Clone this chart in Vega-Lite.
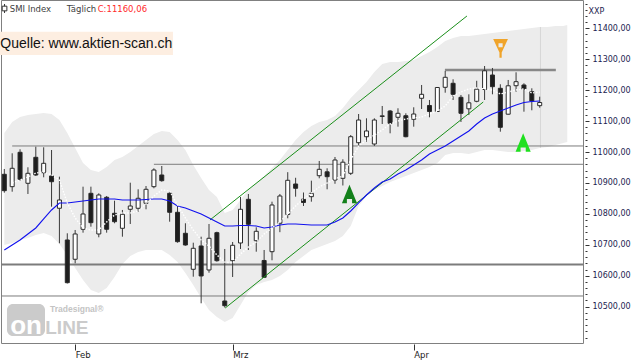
{
"$schema": "https://vega.github.io/schema/vega-lite/v6.json",
"width": 582, "height": 343,
"autosize": {"type": "none"},
"padding": {"left": 1, "top": 0, "right": 57, "bottom": 17},
"background": "white",
"config": {
  "view": {"stroke": "#808080", "strokeWidth": 1},
  "font": "DejaVu Sans",
  "scale": {"continuousPadding": 0},
  "axis": {"domain": false, "grid": false, "tickColor": "#333333", "labelFont": "DejaVu Sans", "labelFontSize": 8, "title": null, "labelOverlap": false, "labelFlush": false, "labelBound": false},
  "axisX": {"offset": 1, "tickSize": 6, "labelAlign": "left", "labelDx": 2, "labelBaseline": "alphabetic", "labelPadding": 7, "labelColor": "#222222", "labelFontSize": 8.5}
},
"datasets": {
  "candles": [
    {"i":0,"o":10928.0,"h":10945.1,"l":10868.5,"c":10875.0},
    {"i":1,"o":10887.9,"h":10995.9,"l":10871.7,"c":10947.4},
    {"i":2,"o":10999.1,"h":11008.8,"l":10907.3,"c":10911.8},
    {"i":3,"o":10898.9,"h":10950.6,"l":10864.3,"c":10931.2},
    {"i":4,"o":10982.9,"h":11017.2,"l":10922.5,"c":10925.7},
    {"i":5,"o":10933.1,"h":11015.3,"l":10918.3,"c":10963.5},
    {"i":6,"o":10922.5,"h":11006.5,"l":10823.2,"c":10904.0},
    {"i":7,"o":10818.1,"h":10920.2,"l":10704.9,"c":10844.9},
    {"i":8,"o":10715.6,"h":10737.2,"l":10574.9,"c":10577.5},
    {"i":9,"o":10653.2,"h":10747.9,"l":10640.2,"c":10735.0},
    {"i":10,"o":10750.2,"h":10887.9,"l":10739.2,"c":10799.6},
    {"i":11,"o":10866.5,"h":10887.9,"l":10758.6,"c":10771.5},
    {"i":12,"o":10735.0,"h":10866.5,"l":10724.3,"c":10861.1},
    {"i":13,"o":10853.6,"h":10857.8,"l":10739.2,"c":10750.2},
    {"i":14,"o":10801.9,"h":10842.6,"l":10769.6,"c":10774.7},
    {"i":15,"o":10753.4,"h":10812.6,"l":10726.2,"c":10798.7},
    {"i":16,"o":10814.8,"h":10900.8,"l":10767.3,"c":10825.5},
    {"i":17,"o":10818.1,"h":10879.5,"l":10807.0,"c":10850.4},
    {"i":18,"o":10834.2,"h":10890.1,"l":10814.8,"c":10879.5},
    {"i":19,"o":10887.9,"h":10947.4,"l":10882.7,"c":10941.9},
    {"i":20,"o":10925.7,"h":10954.8,"l":10904.0,"c":10907.3},
    {"i":21,"o":10866.5,"h":10871.7,"l":10774.7,"c":10805.1},
    {"i":22,"o":10805.1,"h":10828.7,"l":10706.8,"c":10710.1},
    {"i":23,"o":10737.2,"h":10769.6,"l":10697.1,"c":10699.4},
    {"i":24,"o":10620.8,"h":10706.8,"l":10596.9,"c":10688.7},
    {"i":25,"o":10696.2,"h":10726.2,"l":10510.9,"c":10599.2},
    {"i":26,"o":10618.6,"h":10767.3,"l":10609.8,"c":10721.1},
    {"i":27,"o":10739.2,"h":10742.4,"l":10645.4,"c":10648.6},
    {"i":28,"o":10518.3,"h":10686.5,"l":10497.3,"c":10503.1},
    {"i":29,"o":10648.6,"h":10709.1,"l":10595.9,"c":10698.4},
    {"i":30,"o":10705.9,"h":10854.6,"l":10686.5,"c":10814.8},
    {"i":31,"o":10847.1,"h":10864.3,"l":10683.2,"c":10766.3},
    {"i":32,"o":10713.3,"h":10756.6,"l":10677.7,"c":10743.7},
    {"i":33,"o":10649.3,"h":10683.2,"l":10595.0,"c":10595.0},
    {"i":34,"o":10677.7,"h":10839.4,"l":10649.9,"c":10828.7},
    {"i":35,"o":10769.6,"h":10864.3,"l":10740.8,"c":10857.8},
    {"i":36,"o":10798.0,"h":10934.8,"l":10785.7,"c":10908.6},
    {"i":37,"o":10896.6,"h":10916.7,"l":10855.6,"c":10882.7},
    {"i":38,"o":10847.5,"h":10869.1,"l":10825.5,"c":10836.8},
    {"i":39,"o":10855.6,"h":10907.3,"l":10839.4,"c":10866.5},
    {"i":40,"o":10923.4,"h":10971.0,"l":10915.0,"c":10944.1},
    {"i":41,"o":10936.0,"h":10947.4,"l":10879.5,"c":10920.2},
    {"i":42,"o":10909.5,"h":10983.9,"l":10897.3,"c":10974.2},
    {"i":43,"o":10915.0,"h":10976.5,"l":10891.8,"c":10967.1},
    {"i":44,"o":10931.2,"h":11055.0,"l":10925.7,"c":11049.5},
    {"i":45,"o":11030.1,"h":11122.9,"l":11019.5,"c":11103.5},
    {"i":46,"o":11049.5,"h":11109.0,"l":11033.4,"c":11068.0},
    {"i":47,"o":11025.9,"h":11109.0,"l":11019.5,"c":11103.5},
    {"i":48,"o":11114.8,"h":11148.8,"l":11090.6,"c":11117.1},
    {"i":49,"o":11132.6,"h":11135.9,"l":11060.5,"c":11092.9},
    {"i":50,"o":11112.3,"h":11141.4,"l":11081.9,"c":11125.2},
    {"i":51,"o":11117.4,"h":11125.2,"l":11047.6,"c":11049.5},
    {"i":52,"o":11105.8,"h":11144.6,"l":11081.9,"c":11122.9},
    {"i":53,"o":11173.7,"h":11216.7,"l":11139.1,"c":11186.6},
    {"i":54,"o":11150.4,"h":11168.2,"l":11112.3,"c":11131.0},
    {"i":55,"o":11131.0,"h":11210.2,"l":11130.4,"c":11208.6},
    {"i":56,"o":11209.2,"h":11262.0,"l":11191.8,"c":11241.6},
    {"i":57,"o":11222.2,"h":11235.1,"l":11168.2,"c":11186.6},
    {"i":58,"o":11176.9,"h":11184.4,"l":11097.1,"c":11125.2},
    {"i":59,"o":11139.7,"h":11186.6,"l":11119.7,"c":11159.1},
    {"i":60,"o":11164.0,"h":11230.3,"l":11160.8,"c":11203.1},
    {"i":61,"o":11202.1,"h":11278.1,"l":11168.2,"c":11262.6},
    {"i":62,"o":11249.0,"h":11271.7,"l":11186.6,"c":11211.2},
    {"i":63,"o":11206.0,"h":11219.0,"l":11065.7,"c":11079.9},
    {"i":64,"o":11122.3,"h":11232.9,"l":11121.3,"c":11214.1},
    {"i":65,"o":11214.4,"h":11257.7,"l":11195.0,"c":11227.4},
    {"i":66,"o":11216.7,"h":11222.2,"l":11130.4,"c":11203.1},
    {"i":67,"o":11195.0,"h":11206.0,"l":11134.9,"c":11165.0},
    {"i":68,"o":11149.8,"h":11178.9,"l":11143.3,"c":11160.06}
  ],
  "ma": [
    {"i":0,"m20":10683.2,"m5":null},{"i":1,"m20":10699.4,"m5":10899.8},{"i":2,"m20":10715.6,"m5":10909.5},
    {"i":3,"m20":10735.0,"m5":10919.2},{"i":4,"m20":10754.4,"m5":10932.2},{"i":5,"m20":10783.5,"m5":10935.4},
    {"i":6,"m20":10812.6,"m5":10925.7},{"i":7,"m20":10835.2,"m5":10909.5},{"i":8,"m20":10835.2,"m5":10835.2},
    {"i":9,"m20":10838.4,"m5":10786.7},{"i":10,"m20":10841.6,"m5":10754.4},{"i":11,"m20":10844.9,"m5":10747.9},
    {"i":12,"m20":10848.1,"m5":10747.9},{"i":13,"m20":10848.1,"m5":10773.8},{"i":14,"m20":10848.1,"m5":10796.4},
    {"i":15,"m20":10844.9,"m5":10802.9},{"i":16,"m20":10844.9,"m5":10802.9},{"i":17,"m20":10844.9,"m5":10809.3},
    {"i":18,"m20":10846.5,"m5":10832.0},{"i":19,"m20":10848.1,"m5":10857.8},{"i":20,"m20":10848.1,"m5":10877.2},
    {"i":21,"m20":10841.6,"m5":10874.0},{"i":22,"m20":10825.5,"m5":10828.7},{"i":23,"m20":10819.0,"m5":10786.7},
    {"i":24,"m20":10809.3,"m5":10747.9},{"i":25,"m20":10799.6,"m5":10715.6},{"i":26,"m20":10786.7,"m5":10696.2},
    {"i":27,"m20":10773.8,"m5":10667.1},{"i":28,"m20":10760.8,"m5":10644.5},{"i":29,"m20":10760.8,"m5":10641.2},
    {"i":30,"m20":10762.4,"m5":10670.3},{"i":31,"m20":10762.4,"m5":10692.9},{"i":32,"m20":10760.8,"m5":10709.1},
    {"i":33,"m20":10754.4,"m5":10735.0},{"i":34,"m20":10757.6,"m5":10754.4},{"i":35,"m20":10764.1,"m5":10773.8},
    {"i":36,"m20":10767.3,"m5":10799.6},{"i":37,"m20":10767.3,"m5":10825.5},{"i":38,"m20":10765.7,"m5":10848.1},
    {"i":39,"m20":10764.1,"m5":10867.5},{"i":40,"m20":10764.1,"m5":10886.9},{"i":41,"m20":10764.1,"m5":10899.8},
    {"i":42,"m20":10773.8,"m5":10912.8},{"i":43,"m20":10786.7,"m5":10922.5},{"i":44,"m20":10809.3,"m5":10974.2},
    {"i":45,"m20":10835.2,"m5":11019.5},{"i":46,"m20":10861.0,"m5":11038.9},{"i":47,"m20":10883.7,"m5":11055.0},
    {"i":48,"m20":10903.1,"m5":11071.2},{"i":49,"m20":10912.8,"m5":11090.6},{"i":50,"m20":10928.9,"m5":11100.3},
    {"i":51,"m20":10941.9,"m5":11106.8},{"i":52,"m20":10958.0,"m5":11110.0},{"i":53,"m20":10974.2,"m5":11113.2},
    {"i":54,"m20":10993.6,"m5":11122.9},{"i":55,"m20":11006.5,"m5":11132.6},{"i":56,"m20":11019.5,"m5":11148.8},
    {"i":57,"m20":11035.6,"m5":11181.1},{"i":58,"m20":11051.8,"m5":11194.1},{"i":59,"m20":11068.0,"m5":11203.8},
    {"i":60,"m20":11090.6,"m5":11207.0},{"i":61,"m20":11110.0,"m5":11203.8},{"i":62,"m20":11122.9,"m5":11200.5},
    {"i":63,"m20":11132.6,"m5":11187.6},{"i":64,"m20":11142.3,"m5":11194.1},{"i":65,"m20":11152.0,"m5":11200.5},
    {"i":66,"m20":11160.1,"m5":11203.8},{"i":67,"m20":11163.3,"m5":11190.8},{"i":68,"m20":11165.0,"m5":11194.1}
  ],
  "band": [
    {"i":0,"hi":11061.5,"lo":10699.4},{"i":1,"hi":11097.1,"lo":10705.9},{"i":2,"hi":11113.2,"lo":10715.6},
    {"i":3,"hi":11119.7,"lo":10722.0},{"i":4,"hi":11122.9,"lo":10731.7},{"i":5,"hi":11126.2,"lo":10738.2},
    {"i":6,"hi":11122.9,"lo":10728.5},{"i":7,"hi":11103.5,"lo":10702.6},{"i":8,"hi":11061.5,"lo":10667.1},
    {"i":9,"hi":11013.0,"lo":10625.1},{"i":10,"hi":10964.5,"lo":10586.2},{"i":11,"hi":10941.9,"lo":10553.9},
    {"i":12,"hi":10935.4,"lo":10544.2},{"i":13,"hi":10951.6,"lo":10560.4},{"i":14,"hi":10974.2,"lo":10596.0},
    {"i":15,"hi":10983.9,"lo":10638.0},{"i":16,"hi":11000.1,"lo":10663.8},{"i":17,"hi":11019.5,"lo":10676.8},
    {"i":18,"hi":11038.9,"lo":10683.2},{"i":19,"hi":11058.3,"lo":10683.2},{"i":20,"hi":11068.0,"lo":10683.2},
    {"i":21,"hi":11064.7,"lo":10667.1},{"i":22,"hi":11038.9,"lo":10644.5},{"i":23,"hi":11006.5,"lo":10608.9},
    {"i":24,"hi":10958.0,"lo":10570.1},{"i":25,"hi":10916.0,"lo":10528.0},{"i":26,"hi":10877.2,"lo":10489.2},
    {"i":27,"hi":10854.6,"lo":10466.6},{"i":28,"hi":10802.8,"lo":10450.5},{"i":29,"hi":10812.6,"lo":10463.4},
    {"i":30,"hi":10844.9,"lo":10505.4},{"i":31,"hi":10877.2,"lo":10547.4},{"i":32,"hi":10899.8,"lo":10570.1},
    {"i":33,"hi":10922.5,"lo":10579.8},{"i":34,"hi":10948.3,"lo":10586.2},{"i":35,"hi":10974.2,"lo":10599.2},
    {"i":36,"hi":11006.5,"lo":10618.6},{"i":37,"hi":11038.9,"lo":10644.5},{"i":38,"hi":11064.7,"lo":10663.8},
    {"i":39,"hi":11084.1,"lo":10683.2},{"i":40,"hi":11097.1,"lo":10692.9},{"i":41,"hi":11103.5,"lo":10702.6},
    {"i":42,"hi":11116.5,"lo":10712.4},{"i":43,"hi":11142.3,"lo":10728.5},{"i":44,"hi":11174.7,"lo":10760.8},
    {"i":45,"hi":11200.5,"lo":10825.5},{"i":46,"hi":11226.4,"lo":10857.8},{"i":47,"hi":11258.7,"lo":10877.2},
    {"i":48,"hi":11284.6,"lo":10890.1},{"i":49,"hi":11291.1,"lo":10903.1},{"i":50,"hi":11291.1,"lo":10912.8},
    {"i":51,"hi":11294.3,"lo":10922.5},{"i":52,"hi":11297.5,"lo":10932.2},{"i":53,"hi":11310.4,"lo":10941.9},
    {"i":54,"hi":11323.4,"lo":10951.6},{"i":55,"hi":11339.5,"lo":10964.5},{"i":56,"hi":11358.9,"lo":10990.4},
    {"i":57,"hi":11368.6,"lo":10996.8},{"i":58,"hi":11375.1,"lo":10996.8},{"i":59,"hi":11375.1,"lo":10993.6},
    {"i":60,"hi":11378.3,"lo":11000.1},{"i":61,"hi":11381.6,"lo":11006.5},{"i":62,"hi":11384.8,"lo":11006.5},
    {"i":63,"hi":11388.0,"lo":11003.3},{"i":64,"hi":11391.3,"lo":11000.1},{"i":65,"hi":11394.5,"lo":11000.1},
    {"i":66,"hi":11397.7,"lo":11003.3},{"i":67,"hi":11401.0,"lo":11006.5},{"i":68,"hi":11404.2,"lo":11013.0},
    {"i":69,"hi":11404.2,"lo":11016.2},{"i":70,"hi":11407.4,"lo":11022.7},{"i":71,"hi":11407.4,"lo":11029.2},
    {"i":71.5,"hi":11410.7,"lo":11032.4}
  ]
},
"layer": [
  {
    "layer": [
      {
        "data": {"name": "band"},
        "mark": {"type": "area", "color": "#ececec", "opacity": 1},
        "encoding": {
          "x": {"field": "i", "type": "quantitative", "scale": {"domain": [-0.42, 73.5], "nice": false, "zero": false, "padding": 0},
                "axis": {"values": [9, 29, 52], "labelExpr": "datum.value == 9 ? 'Feb' : datum.value == 29 ? 'Mrz' : 'Apr'", "title": null}},
          "y": {"field": "lo", "type": "quantitative", "scale": {"domain": [10382.5, 11491.5], "nice": false, "zero": false, "padding": 0}, "axis": null},
          "y2": {"field": "hi"}
        }
      },
      {
        "data": {"values": [{"i": 68.1, "a": 11404.2, "b": 11013.0}]},
        "mark": {"type": "rule", "color": "#d6d6d6", "strokeWidth": 1},
        "encoding": {
          "x": {"field": "i", "type": "quantitative", "scale": {"domain": [-0.42, 73.5], "nice": false, "zero": false, "padding": 0}},
          "y": {"field": "a", "type": "quantitative", "scale": {"domain": [10382.5, 11491.5], "nice": false, "zero": false, "padding": 0}, "axis": null},
          "y2": {"field": "b"}
        }
      },
      {
        "data": {"values": [{"a": 0.34, "b": 5.17, "v1": 10508.6, "v2": 10405.2}]},
        "mark": {"type": "rect", "color": "#cbcbcb", "cornerRadius": 6},
        "encoding": {
          "x": {"field": "a", "type": "quantitative", "scale": {"domain": [-0.42, 73.5], "nice": false, "zero": false, "padding": 0}},
          "x2": {"field": "b"},
          "y": {"field": "v1", "type": "quantitative", "scale": {"domain": [10382.5, 11491.5], "nice": false, "zero": false, "padding": 0}, "axis": null},
          "y2": {"field": "v2"}
        }
      },
      {
        "data": {"values": [{"i": 2.76, "v": 10411.6, "t": "on"}]},
        "mark": {"type": "text", "align": "center", "baseline": "alphabetic", "font": "Liberation Sans", "fontSize": 26, "fontWeight": "bold", "color": "#ffffff"},
        "encoding": {
          "x": {"field": "i", "type": "quantitative", "scale": {"domain": [-0.42, 73.5], "nice": false, "zero": false, "padding": 0}},
          "y": {"field": "v", "type": "quantitative", "scale": {"domain": [10382.5, 11491.5], "nice": false, "zero": false, "padding": 0}, "axis": null},
          "text": {"field": "t"}
        }
      },
      {
        "data": {"values": [{"i": 5.2, "v": 10411.6, "t": "LINE"}]},
        "mark": {"type": "text", "align": "left", "baseline": "alphabetic", "font": "Liberation Sans", "fontSize": 19, "fontWeight": "bold", "color": "#cbcbcb"},
        "encoding": {
          "x": {"field": "i", "type": "quantitative", "scale": {"domain": [-0.42, 73.5], "nice": false, "zero": false, "padding": 0}},
          "y": {"field": "v", "type": "quantitative", "scale": {"domain": [10382.5, 11491.5], "nice": false, "zero": false, "padding": 0}, "axis": null},
          "text": {"field": "t"}
        }
      },
      {
        "data": {"values": [{"i": 5.8, "v": 10482.0, "t": "Tradesignal®"}]},
        "mark": {"type": "text", "align": "left", "baseline": "alphabetic", "font": "Liberation Sans", "fontSize": 8.5, "fontWeight": "bold", "color": "#c4c4c4"},
        "encoding": {
          "x": {"field": "i", "type": "quantitative", "scale": {"domain": [-0.42, 73.5], "nice": false, "zero": false, "padding": 0}},
          "y": {"field": "v", "type": "quantitative", "scale": {"domain": [10382.5, 11491.5], "nice": false, "zero": false, "padding": 0}, "axis": null},
          "text": {"field": "t"}
        }
      },
      {
        "data": {"values": [{"a": -0.55, "b": 21.42, "v1": 11389.0, "v2": 11313.7}]},
        "mark": {"type": "rect", "color": "#fdeee1"},
        "encoding": {
          "x": {"field": "a", "type": "quantitative", "scale": {"domain": [-0.42, 73.5], "nice": false, "zero": false, "padding": 0}},
          "x2": {"field": "b"},
          "y": {"field": "v1", "type": "quantitative", "scale": {"domain": [10382.5, 11491.5], "nice": false, "zero": false, "padding": 0}, "axis": null},
          "y2": {"field": "v2"}
        }
      },
      {
        "data": {"values": [{"i": -0.5, "v": 11336.3, "t": "Quelle: www.aktien-scan.ch"}]},
        "mark": {"type": "text", "align": "left", "baseline": "alphabetic", "font": "Liberation Sans", "fontSize": 14, "color": "#111111"},
        "encoding": {
          "x": {"field": "i", "type": "quantitative", "scale": {"domain": [-0.42, 73.5], "nice": false, "zero": false, "padding": 0}},
          "y": {"field": "v", "type": "quantitative", "scale": {"domain": [10382.5, 11491.5], "nice": false, "zero": false, "padding": 0}, "axis": null},
          "text": {"field": "t"}
        }
      },
      {
        "data": {"values": [{"a": 1, "b": 73.5, "v": 11019.5}, {"a": 19, "b": 73.5, "v": 10960.3}, {"a": -0.42, "b": 73.5, "v": 10534.5}]},
        "mark": {"type": "rule", "color": "#7c7c7c", "strokeWidth": 1},
        "encoding": {
          "x": {"field": "a", "type": "quantitative", "scale": {"domain": [-0.42, 73.5], "nice": false, "zero": false, "padding": 0}},
          "x2": {"field": "b"},
          "y": {"field": "v", "type": "quantitative", "scale": {"domain": [10382.5, 11491.5], "nice": false, "zero": false, "padding": 0}, "axis": null}
        }
      },
      {
        "data": {"values": [{"a": -0.42, "b": 73.5, "v": 10636.3}]},
        "mark": {"type": "rule", "color": "#7c7c7c", "strokeWidth": 2.2},
        "encoding": {
          "x": {"field": "a", "type": "quantitative", "scale": {"domain": [-0.42, 73.5], "nice": false, "zero": false, "padding": 0}},
          "x2": {"field": "b"},
          "y": {"field": "v", "type": "quantitative", "scale": {"domain": [10382.5, 11491.5], "nice": false, "zero": false, "padding": 0}, "axis": null}
        }
      },
      {
        "data": {"values": [{"a": 55.96, "b": 70.05, "v": 11265.2}]},
        "mark": {"type": "rule", "color": "#888888", "strokeWidth": 2.5},
        "encoding": {
          "x": {"field": "a", "type": "quantitative", "scale": {"domain": [-0.42, 73.5], "nice": false, "zero": false, "padding": 0}},
          "x2": {"field": "b"},
          "y": {"field": "v", "type": "quantitative", "scale": {"domain": [10382.5, 11491.5], "nice": false, "zero": false, "padding": 0}, "axis": null}
        }
      },
      {
        "data": {"name": "candles"},
        "mark": {"type": "rule", "color": "#3a3a3a", "strokeWidth": 1},
        "encoding": {
          "x": {"field": "i", "type": "quantitative", "scale": {"domain": [-0.42, 73.5], "nice": false, "zero": false, "padding": 0}},
          "y": {"field": "l", "type": "quantitative", "scale": {"domain": [10382.5, 11491.5], "nice": false, "zero": false, "padding": 0}, "axis": null},
          "y2": {"field": "h"}
        }
      },
      {
        "data": {"name": "candles"},
        "mark": {"type": "bar", "size": 4, "stroke": "#2a2a2a", "strokeWidth": 1},
        "encoding": {
          "x": {"field": "i", "type": "quantitative", "scale": {"domain": [-0.42, 73.5], "nice": false, "zero": false, "padding": 0}},
          "y": {"field": "o", "type": "quantitative", "scale": {"domain": [10382.5, 11491.5], "nice": false, "zero": false, "padding": 0}, "axis": null},
          "y2": {"field": "c"},
          "fill": {"condition": {"test": "datum.c >= datum.o", "value": "#ffffff"}, "value": "#1e1e1e"}
        }
      },
      {
        "data": {"values": [{"a": 26.12, "va": 10780.2, "b": 58.76, "vb": 11439.8}, {"a": 28.06, "va": 10495.7, "b": 60.83, "vb": 11161.7}]},
        "mark": {"type": "rule", "color": "#1a8f1a", "strokeWidth": 1},
        "encoding": {
          "x": {"field": "a", "type": "quantitative", "scale": {"domain": [-0.42, 73.5], "nice": false, "zero": false, "padding": 0}},
          "x2": {"field": "b"},
          "y": {"field": "va", "type": "quantitative", "scale": {"domain": [10382.5, 11491.5], "nice": false, "zero": false, "padding": 0}, "axis": null},
          "y2": {"field": "vb"}
        }
      },
      {
        "data": {"name": "ma"},
        "mark": {"type": "line", "color": "#1010ee", "strokeWidth": 1.1},
        "encoding": {
          "x": {"field": "i", "type": "quantitative", "scale": {"domain": [-0.42, 73.5], "nice": false, "zero": false, "padding": 0}},
          "y": {"field": "m20", "type": "quantitative", "scale": {"domain": [10382.5, 11491.5], "nice": false, "zero": false, "padding": 0}, "axis": null}
        }
      },
      {
        "data": {"name": "ma"},
        "mark": {"type": "line", "color": "#ffffff", "strokeWidth": 1.4, "strokeDash": [1.5, 1.5]},
        "encoding": {
          "x": {"field": "i", "type": "quantitative", "scale": {"domain": [-0.42, 73.5], "nice": false, "zero": false, "padding": 0}},
          "y": {"field": "m5", "type": "quantitative", "scale": {"domain": [10382.5, 11491.5], "nice": false, "zero": false, "padding": 0}, "axis": null}
        }
      },
      {
        "data": {"values": [{"i": 63.03, "v": 11335.4}]},
        "mark": {"type": "point", "filled": true, "opacity": 1, "size": 350, "color": "#f0a42a",
                 "shape": "M-0.79,-1L0.79,-1L0.12,0.45L0.12,1L-0.12,1L-0.12,0.45Z M-0.22,-0.55L-0.22,-0.1L0.22,-0.1L0.22,-0.55Z"},
        "encoding": {
          "x": {"field": "i", "type": "quantitative", "scale": {"domain": [-0.42, 73.5], "nice": false, "zero": false, "padding": 0}},
          "y": {"field": "v", "type": "quantitative", "scale": {"domain": [10382.5, 11491.5], "nice": false, "zero": false, "padding": 0}, "axis": null}
        }
      },
      {
        "data": {"values": [{"i": 43.84, "v": 10864.3}]},
        "mark": {"type": "point", "filled": true, "opacity": 1, "size": 340, "color": "#13801a",
                 "shape": "M0,-1L0.82,1L0.28,1L0.28,0.55L-0.28,0.55L-0.28,1L-0.82,1Z"},
        "encoding": {
          "x": {"field": "i", "type": "quantitative", "scale": {"domain": [-0.42, 73.5], "nice": false, "zero": false, "padding": 0}},
          "y": {"field": "v", "type": "quantitative", "scale": {"domain": [10382.5, 11491.5], "nice": false, "zero": false, "padding": 0}, "axis": null}
        }
      },
      {
        "data": {"values": [{"i": 65.9, "v": 11030.8}]},
        "mark": {"type": "point", "filled": true, "opacity": 1, "size": 340, "color": "#1fe01f",
                 "shape": "M0,-1L0.82,1L0.28,1L0.28,0.55L-0.28,0.55L-0.28,1L-0.82,1Z"},
        "encoding": {
          "x": {"field": "i", "type": "quantitative", "scale": {"domain": [-0.42, 73.5], "nice": false, "zero": false, "padding": 0}},
          "y": {"field": "v", "type": "quantitative", "scale": {"domain": [10382.5, 11491.5], "nice": false, "zero": false, "padding": 0}, "axis": null}
        }
      },
      {
        "data": {"values": [{"i": 0.03, "a": 11478.6, "b": 11449.5}]},
        "mark": {"type": "rule", "color": "#333333", "strokeWidth": 1},
        "encoding": {
          "x": {"field": "i", "type": "quantitative", "scale": {"domain": [-0.42, 73.5], "nice": false, "zero": false, "padding": 0}},
          "y": {"field": "a", "type": "quantitative", "scale": {"domain": [10382.5, 11491.5], "nice": false, "zero": false, "padding": 0}, "axis": null},
          "y2": {"field": "b"}
        }
      },
      {
        "data": {"values": [{"i": 0.03, "v": 11464.0}]},
        "mark": {"type": "point", "shape": "square", "filled": true, "size": 22, "fill": "#ffffff", "stroke": "#333333", "strokeWidth": 1, "opacity": 1},
        "encoding": {
          "x": {"field": "i", "type": "quantitative", "scale": {"domain": [-0.42, 73.5], "nice": false, "zero": false, "padding": 0}},
          "y": {"field": "v", "type": "quantitative", "scale": {"domain": [10382.5, 11491.5], "nice": false, "zero": false, "padding": 0}, "axis": null}
        }
      },
      {
        "data": {"values": [{"i": 0.69, "v": 11454.3, "t": "SMI Index"}, {"i": 7.92, "v": 11454.3, "t": "Täglich"}]},
        "mark": {"type": "text", "align": "left", "baseline": "alphabetic", "font": "DejaVu Sans", "fontSize": 8.5, "color": "#404040"},
        "encoding": {
          "x": {"field": "i", "type": "quantitative", "scale": {"domain": [-0.42, 73.5], "nice": false, "zero": false, "padding": 0}},
          "y": {"field": "v", "type": "quantitative", "scale": {"domain": [10382.5, 11491.5], "nice": false, "zero": false, "padding": 0}, "axis": null},
          "text": {"field": "t"}
        }
      },
      {
        "data": {"values": [{"i": 11.86, "v": 11454.3, "t": "C:11160,06"}]},
        "mark": {"type": "text", "align": "left", "baseline": "alphabetic", "font": "DejaVu Sans", "fontSize": 8.5, "color": "#ff2a2a"},
        "encoding": {
          "x": {"field": "i", "type": "quantitative", "scale": {"domain": [-0.42, 73.5], "nice": false, "zero": false, "padding": 0}},
          "y": {"field": "v", "type": "quantitative", "scale": {"domain": [10382.5, 11491.5], "nice": false, "zero": false, "padding": 0}, "axis": null},
          "text": {"field": "t"}
        }
      }
    ]
  },
  {
    "data": {"values": [{"v": 10500}]},
    "mark": {"type": "point", "opacity": 0},
    "encoding": {
      "y": {"field": "v", "type": "quantitative", "scale": {"domain": [10382.5, 11491.5], "nice": false, "zero": false, "padding": 0},
            "axis": {"orient": "right", "values": [10500, 10600, 10700, 10800, 10900, 11000, 11100, 11200, 11300, 11400],
                     "labelExpr": "replace(format(datum.value, '.2f'), '.', ',')", "offset": 2, "tickSize": 4, "labelPadding": 3,
                     "labelColor": "#1c1c50", "labelBaseline": "middle", "labelOverlap": false, "labelFlush": false, "labelBound": false, "title": null}}
    }
  },
  {
    "data": {"values": [{"v": 10500}]},
    "mark": {"type": "point", "opacity": 0},
    "encoding": {
      "y": {"field": "v", "type": "quantitative", "scale": {"domain": [10382.5, 11491.5], "nice": false, "zero": false, "padding": 0},
            "axis": {"orient": "right", "labels": false, "tickSize": 2, "offset": 2, "domain": false,
                     "values": [10400,10420,10440,10460,10480,10520,10540,10560,10580,10620,10640,10660,10680,10720,10740,10760,10780,10820,10840,10860,10880,10920,10940,10960,10980,11020,11040,11060,11080,11120,11140,11160,11180,11220,11240,11260,11280,11320,11340,11360,11380,11420,11440,11460,11480],
                     "title": "XXP", "titleAngle": 0, "titleX": 3, "titleY": 13, "titleAlign": "left", "titleBaseline": "alphabetic",
                     "titleFont": "DejaVu Sans", "titleFontSize": 8, "titleFontWeight": "normal", "titleColor": "#1c1c50"}}
    }
  }
],
"resolve": {"axis": {"y": "independent"}}
}
